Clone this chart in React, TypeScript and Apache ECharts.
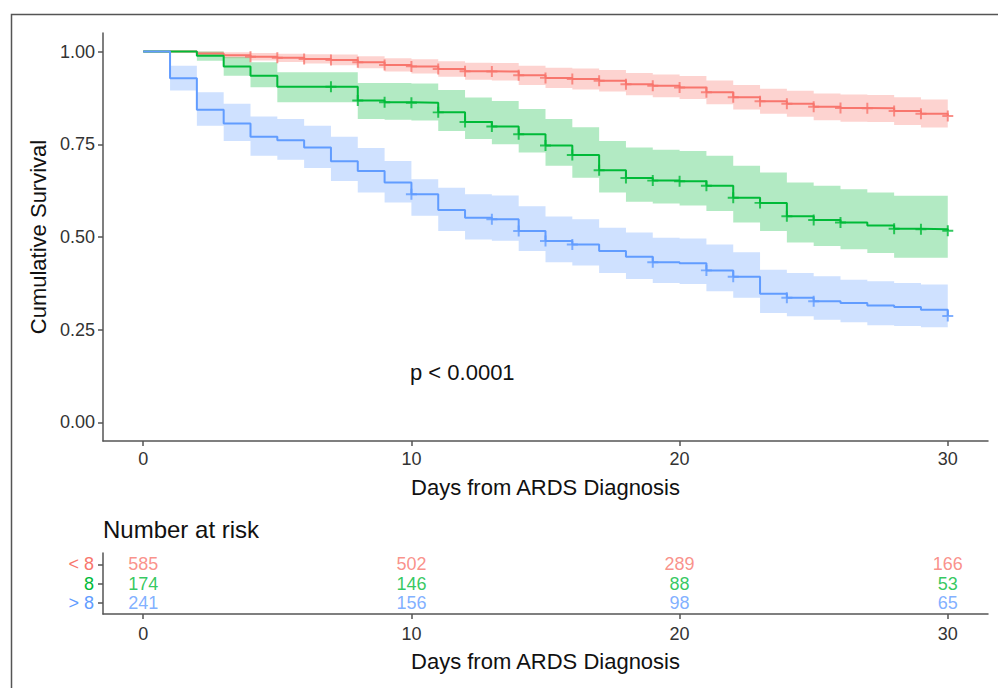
import React, { useEffect, useRef } from 'react';
import * as echarts from 'echarts';

// ---- data ----
const DAYS = [0, 1, 2, 3, 4, 5, 6, 7, 8, 9, 10, 11, 12, 13, 14, 15, 16, 17, 18, 19, 20, 21, 22, 23, 24, 25, 26, 27, 28, 29, 30];
const GROUPS = ['< 8', '8', '> 8'];
const COLORS = ['#F8766D', '#00BA38', '#619CFF'];
const FILLS = ['rgba(248,118,109,0.32)', 'rgba(0,186,56,0.3)', 'rgba(97,156,255,0.3)'];

const SURV_LT8 = [1, 1, 0.995, 0.99, 0.986, 0.983, 0.98, 0.977, 0.971, 0.964, 0.96, 0.953, 0.947, 0.946, 0.936, 0.929, 0.926, 0.921, 0.912, 0.908, 0.903, 0.89, 0.877, 0.866, 0.859, 0.851, 0.848, 0.847, 0.84, 0.832, 0.826];
const UPPER_LT8 = [1, 1, 1, 0.998, 0.996, 0.994, 0.993, 0.992, 0.987, 0.982, 0.979, 0.974, 0.97, 0.969, 0.962, 0.956, 0.954, 0.95, 0.942, 0.938, 0.934, 0.922, 0.91, 0.9, 0.894, 0.887, 0.884, 0.883, 0.877, 0.871, 0.868];
const LOWER_LT8 = [1, 1, 0.99, 0.982, 0.976, 0.972, 0.968, 0.963, 0.955, 0.946, 0.941, 0.932, 0.924, 0.922, 0.91, 0.902, 0.898, 0.892, 0.882, 0.877, 0.872, 0.858, 0.844, 0.832, 0.824, 0.815, 0.811, 0.81, 0.802, 0.795, 0.795];

const SURV_EQ8 = [1, 1, 0.989, 0.96, 0.935, 0.905, 0.905, 0.905, 0.868, 0.863, 0.862, 0.836, 0.81, 0.798, 0.777, 0.747, 0.721, 0.68, 0.659, 0.652, 0.65, 0.638, 0.606, 0.592, 0.556, 0.546, 0.539, 0.531, 0.522, 0.521, 0.517];
const UPPER_EQ8 = [1, 1, 1, 0.985, 0.971, 0.944, 0.944, 0.944, 0.915, 0.915, 0.914, 0.896, 0.876, 0.867, 0.845, 0.818, 0.796, 0.759, 0.741, 0.735, 0.732, 0.719, 0.692, 0.674, 0.647, 0.638, 0.629, 0.62, 0.611, 0.611, 0.611];
const LOWER_EQ8 = [1, 1, 0.975, 0.935, 0.904, 0.863, 0.863, 0.863, 0.818, 0.816, 0.814, 0.786, 0.764, 0.75, 0.728, 0.692, 0.66, 0.62, 0.595, 0.59, 0.585, 0.57, 0.539, 0.516, 0.485, 0.476, 0.467, 0.457, 0.444, 0.444, 0.444];

const SURV_GT8 = [1, 0.928, 0.843, 0.806, 0.77, 0.761, 0.741, 0.704, 0.678, 0.647, 0.615, 0.573, 0.552, 0.548, 0.516, 0.489, 0.48, 0.462, 0.447, 0.432, 0.429, 0.41, 0.393, 0.347, 0.336, 0.327, 0.322, 0.315, 0.311, 0.304, 0.287];
const UPPER_GT8 = [1, 0.962, 0.89, 0.859, 0.825, 0.818, 0.8, 0.77, 0.74, 0.705, 0.656, 0.633, 0.615, 0.612, 0.583, 0.555, 0.548, 0.525, 0.512, 0.498, 0.496, 0.48, 0.459, 0.412, 0.403, 0.394, 0.385, 0.381, 0.376, 0.372, 0.369];
const LOWER_GT8 = [1, 0.895, 0.8, 0.759, 0.719, 0.708, 0.686, 0.651, 0.62, 0.593, 0.557, 0.516, 0.493, 0.49, 0.462, 0.432, 0.423, 0.403, 0.387, 0.376, 0.373, 0.354, 0.336, 0.295, 0.286, 0.277, 0.27, 0.262, 0.26, 0.257, 0.255];

const CENSOR_LT8 = [4, 5, 6, 7, 8, 9, 10, 11, 12, 13, 14, 15, 16, 17, 18, 19, 20, 21, 22, 23, 24, 25, 26, 27, 28, 29, 30];
const CENSOR_EQ8 = [7, 8, 9, 10, 11, 12, 13, 14, 15, 16, 17, 18, 19, 20, 21, 22, 23, 24, 25, 26, 28, 29, 30];
const CENSOR_GT8 = [10, 13, 14, 15, 16, 19, 21, 22, 24, 25, 30];

const RISK_DAYS = [0, 10, 20, 30];
const RISK_LT8 = [585, 502, 289, 166];
const RISK_EQ8 = [174, 146, 88, 53];
const RISK_GT8 = [241, 156, 98, 65];

const X_TICKS = [0, 10, 20, 30];
const Y_TICKS = [0, 0.25, 0.5, 0.75, 1];

const FONT = '"Liberation Sans", Arial, sans-serif';
const PLUS = 'path://M-5,-0.9L-0.9,-0.9L-0.9,-5L0.9,-5L0.9,-0.9L5,-0.9L5,0.9L0.9,0.9L0.9,5L-0.9,5L-0.9,0.9L-5,0.9Z';

export default function App() {
  const ref = useRef<HTMLDivElement>(null);
  useEffect(() => {
    if (!ref.current) return;
    const chart = echarts.init(ref.current, null, { renderer: 'svg' });
    const survs = [SURV_LT8, SURV_EQ8, SURV_GT8];
    const uppers = [UPPER_LT8, UPPER_EQ8, UPPER_GT8];
    const lowers = [LOWER_LT8, LOWER_EQ8, LOWER_GT8];
    const censors = [CENSOR_LT8, CENSOR_EQ8, CENSOR_GT8];
    const risks = [RISK_LT8, RISK_EQ8, RISK_GT8];

    const bandSeries = GROUPS.map((g, gi) => ({
      type: 'custom',
      name: g + ' band',
      xAxisIndex: 0,
      yAxisIndex: 0,
      silent: true,
      z: 1,
      data: DAYS.map((d) => [d, lowers[gi][d], uppers[gi][d]]),
      renderItem: (params: any, api: any) => {
        if (params.dataIndex !== 0) return null;
        const up = uppers[gi];
        const lo = lowers[gi];
        const pts: number[][] = [];
        for (let i = 0; i < DAYS.length - 1; i++) {
          pts.push(api.coord([DAYS[i], up[i]]));
          pts.push(api.coord([DAYS[i + 1], up[i]]));
        }
        for (let i = DAYS.length - 2; i >= 0; i--) {
          pts.push(api.coord([DAYS[i + 1], lo[i]]));
          pts.push(api.coord([DAYS[i], lo[i]]));
        }
        return { type: 'polygon', shape: { points: pts }, style: { fill: FILLS[gi], stroke: 'none' } };
      },
    }));

    const lineSeries = GROUPS.map((g, gi) => ({
      type: 'line',
      name: g,
      xAxisIndex: 0,
      yAxisIndex: 0,
      step: 'end',
      showSymbol: false,
      silent: true,
      z: 3,
      lineStyle: { color: COLORS[gi], width: 2 },
      data: DAYS.map((d) => [d, survs[gi][d]]),
    }));

    const censorSeries = GROUPS.map((g, gi) => ({
      type: 'scatter',
      name: g + ' censor',
      xAxisIndex: 0,
      yAxisIndex: 0,
      symbol: PLUS,
      symbolSize: 11,
      silent: true,
      z: 4,
      itemStyle: { color: COLORS[gi] },
      data: censors[gi].map((d) => [d, survs[gi][d]]),
    }));

    const riskSeries = GROUPS.map((g, gi) => ({
      type: 'scatter',
      name: g + ' risk',
      xAxisIndex: 1,
      yAxisIndex: 1,
      symbolSize: 1,
      silent: true,
      itemStyle: { color: 'rgba(0,0,0,0)' },
      label: {
        show: true,
        position: 'inside',
        formatter: (p: any) => String(p.value[2]),
        color: COLORS[gi],
        fontSize: 18,
        fontFamily: FONT,
      },
      data: RISK_DAYS.map((d, i) => [d, gi + 1, risks[gi][i]]),
    }));

    const axisLineStyle = { show: true, onZero: false, lineStyle: { color: '#555', width: 1.5 } };
    const tickStyle = { show: true, length: 5, lineStyle: { color: '#555', width: 1.5 } };

    chart.setOption({
      animation: false,
      grid: [
        { left: 103, right: 10, top: 33, bottom: 247, outerBoundsMode: 'none' },
        { left: 103, right: 10, top: 553, bottom: 74, outerBoundsMode: 'none' },
      ],
      xAxis: [
        {
          type: 'value', gridIndex: 0, min: -1.5, max: 31.5,
          axisLine: axisLineStyle,
          axisTick: { ...tickStyle, customValues: X_TICKS },
          axisLabel: { customValues: X_TICKS, fontSize: 18, color: '#333', fontFamily: FONT, margin: 9 },
          splitLine: { show: false },
          name: 'Days from ARDS Diagnosis', nameLocation: 'middle', nameGap: 35,
          nameTextStyle: { fontSize: 22, color: '#111', fontFamily: FONT },
        },
        {
          type: 'value', gridIndex: 1, min: -1.5, max: 31.5,
          axisLine: axisLineStyle,
          axisTick: { ...tickStyle, customValues: X_TICKS },
          axisLabel: { customValues: X_TICKS, fontSize: 18, color: '#333', fontFamily: FONT, margin: 11 },
          splitLine: { show: false },
          name: 'Days from ARDS Diagnosis', nameLocation: 'middle', nameGap: 36,
          nameTextStyle: { fontSize: 22, color: '#111', fontFamily: FONT },
        },
      ],
      yAxis: [
        {
          type: 'value', gridIndex: 0, min: -0.05, max: 1.05,
          axisLine: axisLineStyle,
          axisTick: { ...tickStyle, customValues: Y_TICKS },
          axisLabel: {
            customValues: Y_TICKS, fontSize: 18, color: '#333', fontFamily: FONT, margin: 8,
            formatter: (v: number) => v.toFixed(2),
          },
          splitLine: { show: false },
          name: 'Cumulative Survival', nameLocation: 'middle', nameGap: 52,
          nameTextStyle: { fontSize: 22, color: '#111', fontFamily: FONT },
        },
        {
          type: 'value', gridIndex: 1, min: 0.4, max: 3.6, inverse: true,
          axisLine: axisLineStyle,
          axisTick: { ...tickStyle, customValues: [1, 2, 3] },
          axisLabel: {
            customValues: [1, 2, 3], fontSize: 18, fontFamily: FONT, margin: 9,
            formatter: (v: number) => GROUPS[Math.round(v) - 1] || '',
            color: (v: any) => COLORS[Math.round(Number(v)) - 1] || '#333',
          },
          splitLine: { show: false },
        },
      ],
      graphic: [
        {
          type: 'rect', left: 9, top: 12, silent: true,
          shape: { x: 0, y: 0, width: 1100, height: 800 },
          style: { fill: 'none', stroke: '#555', lineWidth: 1.5 },
        },
        {
          type: 'text', x: 410, y: 372, silent: true,
          style: { text: 'p < 0.0001', fontSize: 22, fontFamily: FONT, fill: '#111', verticalAlign: 'middle', align: 'left' },
        },
        {
          type: 'text', x: 103, y: 529, silent: true,
          style: { text: 'Number at risk', fontSize: 24, fontFamily: FONT, fill: '#111', verticalAlign: 'middle', align: 'left' },
        },
      ],
      series: [...bandSeries, ...lineSeries, ...censorSeries, ...riskSeries],
    });
    return () => chart.dispose();
  }, []);
  return (
    <div
      ref={ref}
      style={{ position: 'fixed', left: 0, top: 0, width: 998, height: 688, background: '#fff' }}
    />
  );
}
